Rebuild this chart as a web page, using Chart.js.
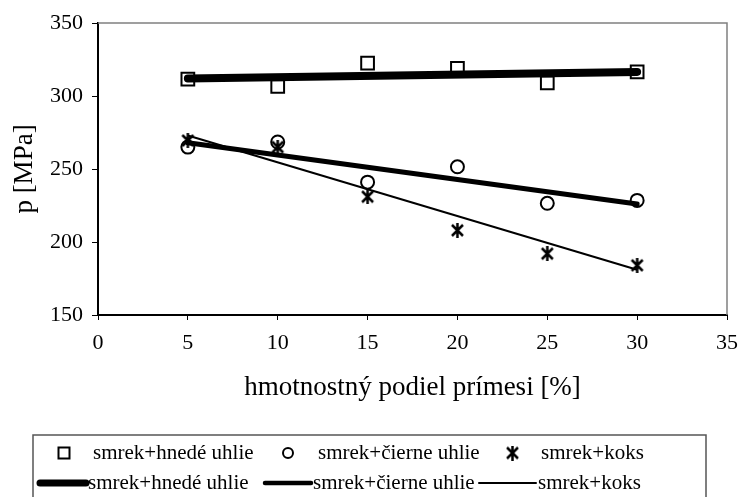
<!DOCTYPE html>
<html>
<head>
<meta charset="utf-8">
<script src="https://cdn.jsdelivr.net/npm/chart.js@4/dist/chart.umd.min.js"></script>
<style>
  html, body { margin: 0; padding: 0; background: #fff; }
  #wrap { width: 738px; height: 497px; }
</style>
</head>
<body>
<div id="wrap"><canvas id="graf" width="738" height="497"></canvas></div>
<script>
// namerane hodnoty
const podiel = [5, 10, 15, 20, 25, 30]
const hnedeUhlie = [311.5, 306.5, 322.5, 319, 309, 316.5]
const cierneUhlie = [265, 268.5, 241, 251.5, 226.5, 228.5]
const koks = [269.5, 265, 231, 208, 192, 184]

// trendy (koncove body)
const trendX = [5, 30]
const trendHnede = [312, 316.5]
const trendCierne = [268, 226]
const trendKoks = [273, 181]

const nazvy = ["smrek+hnedé uhlie", "smrek+čierne uhlie", "smrek+koks"]
const yTicks = [150, 200, 250, 300, 350]
const xTicks = [0, 5, 10, 15, 20, 25, 30, 35]

const FONT = "'Liberation Serif', 'Times New Roman', serif"

function body(xs, ys) {
  return xs.map((x, i) => ({ x: x, y: ys[i] }))
}

// hviezdicka ako v exceli
function hviezda(size) {
  let c = document.createElement("canvas")
  c.width = size
  c.height = size
  let g = c.getContext("2d")
  g.strokeStyle = "#000"
  g.lineWidth = 2.5
  let m = 2
  g.beginPath()
  g.moveTo(m, m); g.lineTo(size - m, size - m)
  g.moveTo(size - m, m); g.lineTo(m, size - m)
  g.moveTo(size / 2, 0); g.lineTo(size / 2, size)
  g.stroke()
  return c
}
const star = hviezda(15)

const ramik = {
  id: "ramik",
  beforeDatasetsDraw(chart) {
    const a = chart.chartArea
    const ctx = chart.ctx
    ctx.save()
    ctx.strokeStyle = "#808080"
    ctx.lineWidth = 1.5
    ctx.beginPath()
    ctx.moveTo(a.left, a.top)
    ctx.lineTo(a.right, a.top)
    ctx.lineTo(a.right, a.bottom)
    ctx.stroke()
    ctx.restore()
  }
}

const legenda = {
  id: "legenda",
  afterDraw(chart) {
    const ctx = chart.ctx
    ctx.save()
    ctx.strokeStyle = "#555"
    ctx.lineWidth = 1.5
    ctx.strokeRect(33, 435, 673, 80)
    ctx.font = "21px " + FONT
    ctx.fillStyle = "#000"
    ctx.textBaseline = "middle"
    ctx.textAlign = "left"
    // riadok 1 - znacky
    const r1 = 453
    ctx.lineWidth = 2
    ctx.strokeStyle = "#000"
    ctx.strokeRect(58.5, r1 - 5.5, 11, 11)
    ctx.beginPath()
    ctx.arc(288, r1, 5, 0, Math.PI * 2)
    ctx.stroke()
    ctx.drawImage(star, 505, r1 - 7.5)
    ctx.fillText(nazvy[0], 93, r1)
    ctx.fillText(nazvy[1], 318, r1)
    ctx.fillText(nazvy[2], 541, r1)
    // riadok 2 - ciary
    const r2 = 483
    ctx.lineCap = "round"
    const ciary = [[40, 86, 7], [265, 311, 4.5], [479, 536, 2]]
    ciary.forEach((c) => {
      ctx.lineWidth = c[2]
      ctx.beginPath()
      ctx.moveTo(c[0], r2)
      ctx.lineTo(c[1], r2)
      ctx.stroke()
    })
    ctx.fillText(nazvy[0], 88, r2)
    ctx.fillText(nazvy[1], 313, r2)
    ctx.fillText(nazvy[2], 538, r2)
    ctx.restore()
  }
}

new Chart(document.getElementById("graf"), {
  type: "scatter",
  data: {
    datasets: [
      {
        label: nazvy[0],
        data: body(podiel, hnedeUhlie),
        pointStyle: "rect",
        pointRadius: 9,
        borderColor: "#000",
        backgroundColor: "rgba(0,0,0,0)",
        pointBorderWidth: 2
      },
      {
        label: nazvy[1],
        data: body(podiel, cierneUhlie),
        pointStyle: "circle",
        pointRadius: 6.5,
        borderColor: "#000",
        backgroundColor: "rgba(0,0,0,0)",
        pointBorderWidth: 2
      },
      {
        label: nazvy[2],
        data: body(podiel, koks),
        pointStyle: star,
        pointRadius: 8,
        borderColor: "#000"
      },
      {
        label: nazvy[0],
        data: body(trendX, trendHnede),
        showLine: true,
        pointRadius: 0,
        borderColor: "#000",
        borderWidth: 8,
        borderCapStyle: "round"
      },
      {
        label: nazvy[1],
        data: body(trendX, trendCierne),
        showLine: true,
        pointRadius: 0,
        borderColor: "#000",
        borderWidth: 5,
        borderCapStyle: "round"
      },
      {
        label: nazvy[2],
        data: body(trendX, trendKoks),
        showLine: true,
        pointRadius: 0,
        borderColor: "#000",
        borderWidth: 2
      }
    ]
  },
  options: {
    responsive: false,
    animation: false,
    layout: { padding: { left: 0, top: 23, right: 11, bottom: 92 } },
    plugins: {
      legend: { display: false },
      tooltip: { enabled: false }
    },
    scales: {
      x: {
        type: "linear",
        min: 0,
        max: 35,
        afterFit: (s) => { s.height = 90; s.paddingLeft = 0; s.paddingRight = 0 },
        afterBuildTicks: (s) => { s.ticks = xTicks.map((v) => ({ value: v })) },
        grid: { drawOnChartArea: false, tickLength: 5, color: "#000" },
        border: { color: "#000", width: 2 },
        ticks: { color: "#000", padding: 10, font: { family: FONT, size: 22 } },
        title: {
          display: true,
          text: "hmotnostný podiel prímesi [%]",
          color: "#000",
          padding: { top: 0, bottom: 1 },
          font: { family: FONT, size: 27, weight: "normal" }
        }
      },
      y: {
        min: 150,
        max: 350,
        afterFit: (s) => { s.width = 98; s.paddingTop = 0; s.paddingBottom = 0 },
        afterBuildTicks: (s) => { s.ticks = yTicks.map((v) => ({ value: v })) },
        grid: { drawOnChartArea: false, tickLength: 6, color: "#000" },
        border: { color: "#000", width: 2 },
        ticks: { color: "#000", padding: 9, font: { family: FONT, size: 22 } },
        title: {
          display: true,
          text: "p [MPa]",
          color: "#000",
          padding: { top: 9, bottom: 0 },
          font: { family: FONT, size: 27, weight: "normal" }
        }
      }
    }
  },
  plugins: [ramik, legenda]
})
</script>
</body>
</html>
